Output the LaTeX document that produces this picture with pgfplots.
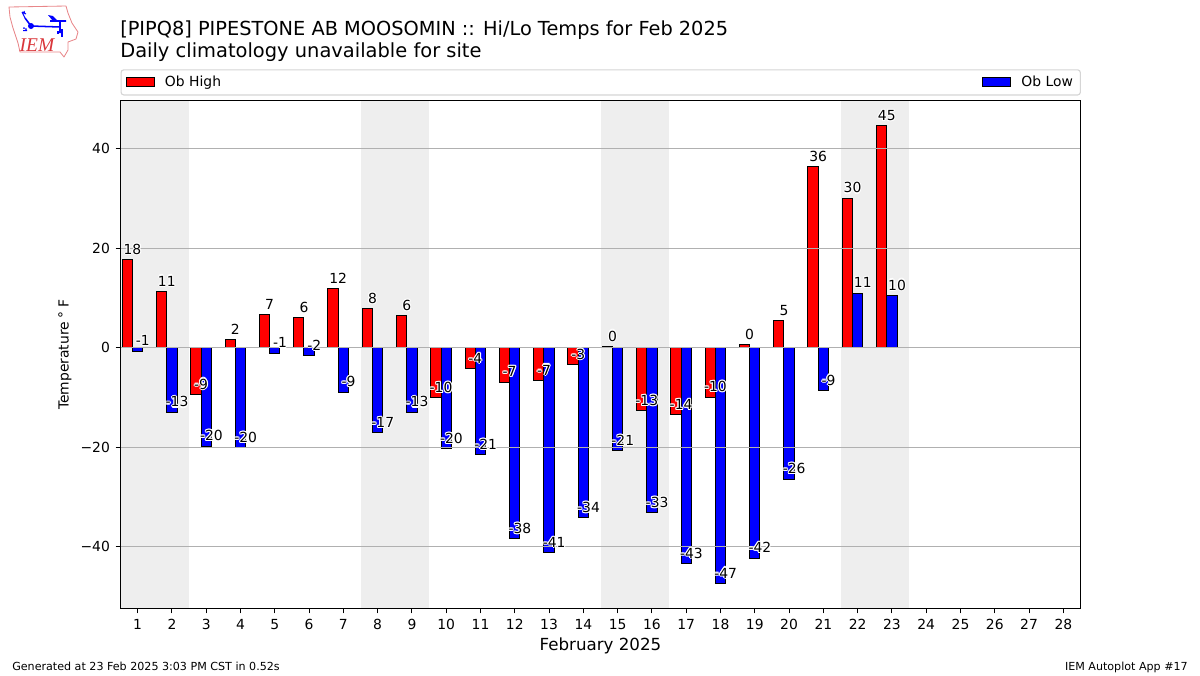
\documentclass[border=0pt]{standalone}
\usepackage{pgfplots}
\usepackage{pgfplotstable}
\usepackage{fontspec}
\setmainfont{DejaVu Sans}
\newfontfamily\logofont{Liberation Serif}
\pgfplotsset{compat=1.18}
\definecolor{band}{HTML}{EEEEEE}
\definecolor{gridc}{HTML}{B0B0B0}
\definecolor{legc}{HTML}{D5D5D5}
\definecolor{logored}{HTML}{D9363A}
\newcommand\hlone[3]{\rlap{\kern#1\raisebox{#2}{\textcolor{white}{#3}}}}
\newcommand\halo[1]{\hlone{0.8pt}{0pt}{#1}\hlone{-0.8pt}{0pt}{#1}\hlone{0pt}{0.8pt}{#1}\hlone{0pt}{-0.8pt}{#1}\hlone{0.55pt}{0.55pt}{#1}\hlone{-0.55pt}{0.55pt}{#1}\hlone{0.55pt}{-0.55pt}{#1}\hlone{-0.55pt}{-0.55pt}{#1}#1}
\pgfplotstableread{
day high low hl ll
1 17.7 -0.65 18 -1
2 11.3 -13.0 11 -13
3 -9.4 -19.8 -9 -20
4 1.6 -20.1 2 -20
5 6.6 -1.05 7 -1
6 6.0 -1.6 6 -2
7 11.9 -8.9 12 -9
8 7.8 -17.1 8 -17
9 6.4 -13.0 6 -13
10 -10.05 -20.3 -10 -20
11 -4.2 -21.5 -4 -21
12 -6.9 -38.4 -7 -38
13 -6.6 -41.2 -7 -41
14 -3.4 -34.2 -3 -34
15 0.25 -20.7 0 -21
16 -12.7 -33.2 -13 -33
17 -13.5 -43.4 -14 -43
18 -9.9 -47.4 -10 -47
19 0.6 -42.3 0 -42
20 5.4 -26.4 5 -26
21 36.4 -8.6 36 -9
22 30.0 11.0 30 11
23 44.6 10.5 45 10
}\temps
\begin{document}
\begin{tikzpicture}[x=0.72pt,y=-0.72pt]
\path (0,0) rectangle (1200,675);
% logo
\draw[logored!60,line width=0.6pt,line join=round] (9,7)--(66,6)--(68,13)--(72,23)--(78,32)--(76,39)--(68,42)--(68,50)--(64,57)--(60,52)--(20,52)--(18,43)--(13,28)--(10,17)--cycle;
\draw[blue,line width=1.1pt] (31,26)--(60,27) (60,21)--(60,33) (50,21)--(66,21) (25,18)--(31,26);
\draw[blue,line width=0.7pt] (22,12)--(25,18) (24,11)--(25,14) (22,12)--(26,14);
\fill[blue] (31,26) circle (3) (48,15)--(53,16)--(58,21)--(53,21)--cycle;
\fill[blue] (24,28) circle (1) (26,29) circle (1) (23,30) rectangle (27,31);
\draw[blue,line width=0.9pt] (62,29)--(62,37) (58,31)--(58,34);
\node[anchor=base,text=logored,font=\logofont\itshape\fontsize{14}{14}\selectfont,inner sep=0pt] at (37,51.5) {IEM};
% titles
\node[anchor=base west,inner sep=0pt,font=\fontsize{13.93}{16}\selectfont] at (120,35.6) {[PIPQ8] PIPESTONE AB MOOSOMIN :: Hi/Lo Temps for Feb 2025};
\node[anchor=base west,inner sep=0pt,font=\fontsize{14}{16}\selectfont] at (120,57.6) {Daily climatology unavailable for site};
\node[anchor=base west,inner sep=0pt,font=\fontsize{8}{10}\selectfont] at (12,670) {Generated at 23 Feb 2025 3:03 PM CST in 0.52s};
\node[anchor=base east,inner sep=0pt,font=\fontsize{8}{10}\selectfont] at (1188,670) {IEM Autoplot App \#17};
\begin{axis}[
  at={(86.76pt,-438.12pt)}, anchor=south west,
  scale only axis, width=691.2pt, height=365.76pt,
  xmin=0.5, xmax=28.5, ymin=-52.4, ymax=49.7,
  xtick={1,...,28},
  ytick={-40,-20,0,20,40},
  yticklabels={−40,−20,0,20,40},
  /pgf/number format/assume math mode=true,
  ymajorgrids,
  grid style={gridc,line width=0.8pt},
  axis on top,
  axis line style={black,line width=0.8pt},
  tick align=outside, tick pos=left,
  major tick length=3.5pt,
  major tick style={black,line width=0.8pt},
  tick label style={font=\fontsize{10}{12}\selectfont},
  xticklabel style={yshift=-0.6pt},
  yticklabel style={xshift=-0.6pt},
  xlabel={February 2025},
  xlabel style={font=\fontsize{12}{14}\selectfont,yshift=0.6pt},
  ylabel={Temperature\;°\;F},
  ylabel style={font=\fontsize{10}{12}\selectfont,yshift=-0.3pt},
  legend columns=2,
  legend cell align=left,
  legend image code/.code={\draw[#1,line width=0.72pt,sharp corners] (0pt,-3.3pt) rectangle (20pt,3.3pt);},
  legend style={at={(rel axis cs:0,1)},anchor=south west,yshift=3.6pt,
    draw=legc,line width=0.8pt,rounded corners=2pt,font=\fontsize{10}{12}\selectfont,
    inner xsep=3.4pt,inner ysep=2.5pt,
    /tikz/column 1/.style={column sep=5.5pt},
    /tikz/column 2/.style={column sep=546pt},
    /tikz/column 3/.style={column sep=5.5pt}},
]
\fill[band] (axis cs:0.5,-60) rectangle (axis cs:2.5,60);
\fill[band] (axis cs:7.5,-60) rectangle (axis cs:9.5,60);
\fill[band] (axis cs:14.5,-60) rectangle (axis cs:16.5,60);
\fill[band] (axis cs:21.5,-60) rectangle (axis cs:23.5,60);
\addplot[ybar,bar width=0.3,bar shift=-0.3,draw=black,fill=red,line width=0.72pt] table[x=day,y=high] {\temps};
\addplot[ybar,bar width=0.3,bar shift=0,draw=black,fill=blue,line width=0.72pt] table[x=day,y=low] {\temps};
\legend{Ob High,Ob Low}
\addplot[forget plot,draw=none,mark=none,point meta=explicit symbolic,
  nodes near coords={\halo{\pgfplotspointmeta}},
  every node near coord/.style={anchor=base,inner sep=0pt,yshift=4pt,font=\fontsize{10}{12}\selectfont,text=black}]
  table[x expr=\thisrow{day}-0.15,y=high,meta=hl] {\temps};
\addplot[forget plot,draw=none,mark=none,point meta=explicit symbolic,
  nodes near coords={\halo{\pgfplotspointmeta}},
  every node near coord/.style={anchor=base,inner sep=0pt,yshift=4pt,font=\fontsize{10}{12}\selectfont,text=black}]
  table[x expr=\thisrow{day}+0.15,y=low,meta=ll] {\temps};
\end{axis}
\end{tikzpicture}
\end{document}
